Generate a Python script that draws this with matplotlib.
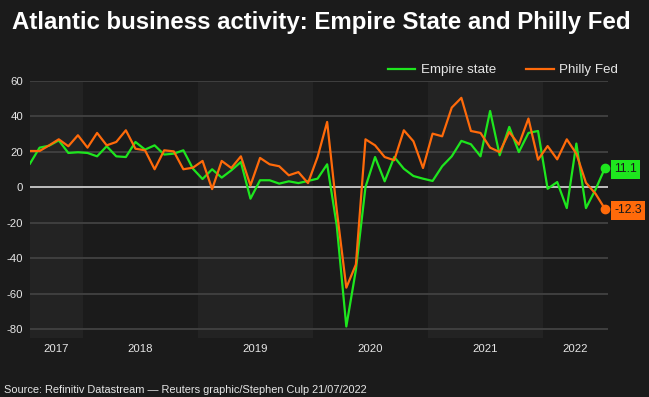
import matplotlib
matplotlib.use("Agg")
import matplotlib.pyplot as plt
import numpy as np

# Monthly data, Jul 2017 - Jul 2022
start_year, start_month = 2017, 7
empire = [13.4, 22.4, 23.5, 26.5, 19.4, 19.8,
          19.4, 17.5, 23.2, 17.5, 17.1, 25.6, 21.3, 23.7, 18.5, 19.0, 20.9, 10.5,
          4.7, 10.2, 5.5, 9.6, 14.3, -6.4, 4.0, 4.0, 2.1, 3.4, 2.4, 3.6,
          4.9, 13.0, -21.5, -78.5, -46.5, 0.2, 17.1, 3.4, 17.1, 10.5, 6.4, 4.9,
          3.6, 11.9, 17.5, 26.2, 24.3, 17.5, 43.1, 18.1, 34.1, 19.9, 30.7, 31.8,
          -0.8, 3.0, -11.7, 24.7, -11.7, -1.2, 11.1]
philly = [20.5, 20.5, 23.7, 27.1, 23.2, 29.4,
          22.4, 30.7, 23.7, 25.6, 32.2, 21.8, 20.9, 10.2, 20.9, 20.3, 10.2, 11.1,
          14.9, -1.0, 14.9, 10.9, 17.5, 1.1, 16.6, 13.0, 11.9, 6.8, 8.6, 2.4,
          17.1, 36.9, -12.7, -56.6, -43.5, 27.1, 23.7, 17.1, 15.3, 32.2, 26.0, 10.9,
          30.3, 28.8, 45.0, 50.5, 31.8, 30.7, 22.4, 19.9, 31.2, 24.1, 38.8, 15.6,
          23.3, 15.8, 27.1, 19.0, 2.6, -3.6, -12.3]
years = [2017, 2018, 2019, 2020, 2021, 2022]
yticks = [-80, -60, -40, -20, 0, 20, 40, 60]

BG = "#1b1b1b"
BAND = "#232323"
GREEN = "#1ee61e"
ORANGE = "#ff6a0a"
TXT = "#e6e6e6"

# x in months since Jan 2017, mid-month
x = (start_year - 2017) * 12 + (start_month - 1) + 0.5 + np.arange(len(empire))
xmin, xmax = x[0], x[-1] + 0.3

fig = plt.figure(figsize=(6.49, 3.97), dpi=100, facecolor=BG)
ax = fig.add_axes([30/649, 1-338/397, 578/649, 257/397])
ax.set_facecolor(BG)
ax.set_xlim(xmin, xmax)
ax.set_ylim(-85, 60)

# alternating year bands
for i, yr in enumerate(years):
    a = max((yr - 2017) * 12, xmin)
    b = min((yr - 2017 + 1) * 12, xmax)
    if i % 2 == 0:
        ax.axvspan(a, b, color=BAND, zorder=0, lw=0)

for v in yticks:
    ax.axhline(v, color="#424242", lw=1.3, zorder=1)
ax.axhline(0, color="#c8c8c8", lw=1.3, zorder=1.5)

ax.plot(x, empire, color=GREEN, lw=1.6, zorder=3, label="Empire state")
ax.plot(x, philly, color=ORANGE, lw=1.6, zorder=3, label="Philly Fed")
ax.plot(x[-1], empire[-1], 'o', color=GREEN, ms=6, zorder=4, clip_on=False)
ax.plot(x[-1], philly[-1], 'o', color=ORANGE, ms=6, zorder=4, clip_on=False)

ff = "Liberation Sans"
ax.text(1.0105, empire[-1] - 1.0, f"{empire[-1]:.1f}", transform=ax.get_yaxis_transform(),
        ha="left", va="center", fontsize=8.8, family=ff, color="#1a1a1a",
        bbox=dict(boxstyle="square,pad=0.28", fc=GREEN, ec="none"), clip_on=False, zorder=5)
ax.text(1.0105, philly[-1] - 0.6, f"{philly[-1]:.1f}", transform=ax.get_yaxis_transform(),
        ha="left", va="center", fontsize=8.8, family=ff, color="#1a1a1a",
        bbox=dict(boxstyle="square,pad=0.28", fc=ORANGE, ec="none"), clip_on=False, zorder=5)

ax.set_yticks(yticks)
ax.set_yticklabels([str(v) for v in yticks], family=ff, fontsize=8.2, color=TXT)
centers = []
for yr in years:
    a = max((yr - 2017) * 12, xmin)
    b = min((yr - 2017 + 1) * 12, xmax)
    centers.append((a + b) / 2)
ax.set_xticks(centers)
ax.set_xticklabels([str(y) for y in years], family=ff, fontsize=8.2, color=TXT)
ax.tick_params(length=0, pad=4)
ax.tick_params(axis="y", pad=5)
for s in ax.spines.values():
    s.set_visible(False)

leg = ax.legend(loc="center right", bbox_to_anchor=(618/649, 1-70/397),
                bbox_transform=fig.transFigure, ncol=2, frameon=False,
                prop=dict(family=ff, size=9.6), labelcolor=TXT,
                handlelength=2.05, handletextpad=0.4, columnspacing=2.3,
                borderpad=0, borderaxespad=0)

fig.text(12/649, 1-22/397, "Atlantic business activity: Empire State and Philly Fed",
         family=ff, weight="bold", fontsize=17.25, color="white", ha="left", va="center")
fig.text(4/649, 1-390/397, "Source: Refinitiv Datastream \u2014 Reuters graphic/Stephen Culp 21/07/2022",
         family=ff, fontsize=7.9, color=TXT, ha="left", va="center")

fig.savefig("out.png", dpi=100, facecolor=BG)
